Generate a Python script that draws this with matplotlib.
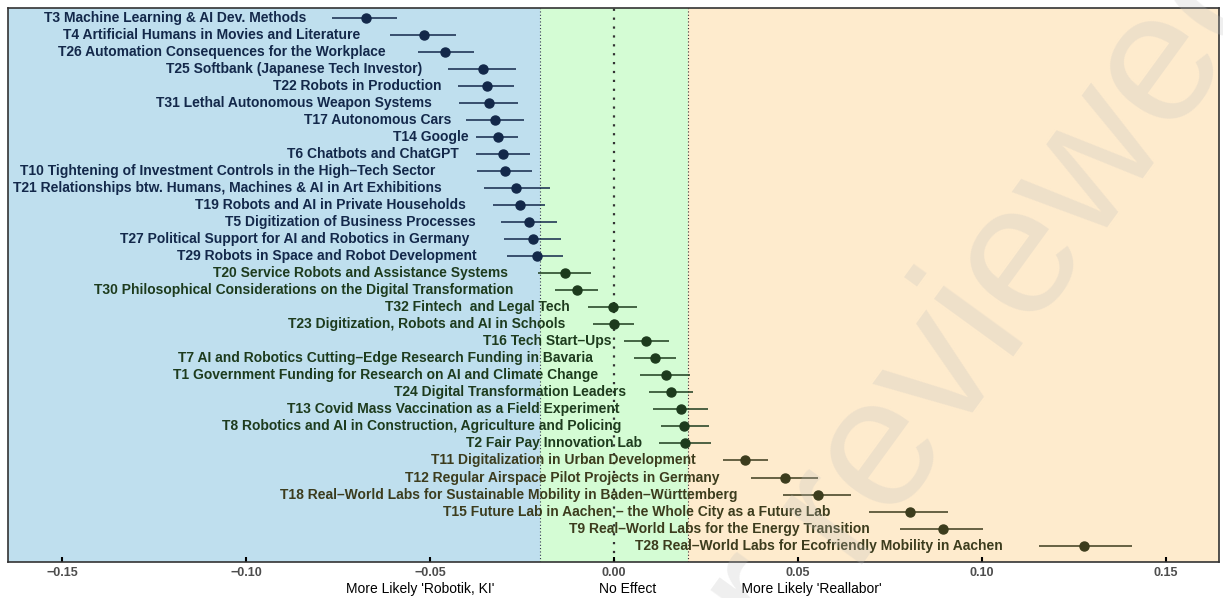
import matplotlib
matplotlib.use("Agg")
import matplotlib.pyplot as plt
import numpy as np

plt.rcParams['font.family'] = ['Liberation Sans', 'DejaVu Sans']

# topic effects, top to bottom
topics = [
    "T3 Machine Learning & AI Dev. Methods",
    "T4 Artificial Humans in Movies and Literature",
    "T26 Automation Consequences for the Workplace",
    "T25 Softbank (Japanese Tech Investor)",
    "T22 Robots in Production",
    "T31 Lethal Autonomous Weapon Systems",
    "T17 Autonomous Cars",
    "T14 Google",
    "T6 Chatbots and ChatGPT",
    "T10 Tightening of Investment Controls in the High–Tech Sector",
    "T21 Relationships btw. Humans, Machines & AI in Art Exhibitions",
    "T19 Robots and AI in Private Households",
    "T5 Digitization of Business Processes",
    "T27 Political Support for AI and Robotics in Germany",
    "T29 Robots in Space and Robot Development",
    "T20 Service Robots and Assistance Systems",
    "T30 Philosophical Considerations on the Digital Transformation",
    "T32 Fintech  and Legal Tech",
    "T23 Digitization, Robots and AI in Schools",
    "T16 Tech Start–Ups",
    "T7 AI and Robotics Cutting–Edge Research Funding in Bavaria",
    "T1 Government Funding for Research on AI and Climate Change",
    "T24 Digital Transformation Leaders",
    "T13 Covid Mass Vaccination as a Field Experiment",
    "T8 Robotics and AI in Construction, Agriculture and Policing",
    "T2 Fair Pay Innovation Lab",
    "T11 Digitalization in Urban Development",
    "T12 Regular Airspace Pilot Projects in Germany",
    "T18 Real–World Labs for Sustainable Mobility in Baden–Württemberg",
    "T15 Future Lab in Aachen – the Whole City as a Future Lab",
    "T9 Real–World Labs for the Energy Transition",
    "T28 Real–World Labs for Ecofriendly Mobility in Aachen",
]
estimate = [-0.0674, -0.0516, -0.0459, -0.0356, -0.0345, -0.0340, -0.0323, -0.0315,
            -0.0302, -0.0296, -0.0266, -0.0255, -0.0231, -0.0220, -0.0209, -0.0133,
            -0.0101, -0.0004, -0.0001, 0.0087, 0.0110, 0.0140, 0.0155, 0.0182,
            0.0191, 0.0194, 0.0357, 0.0464, 0.0555, 0.0804, 0.0893, 0.1276]
conf_low = [-0.0766, -0.0610, -0.0533, -0.0451, -0.0424, -0.0421, -0.0402, -0.0375,
            -0.0375, -0.0372, -0.0353, -0.0329, -0.0307, -0.0299, -0.0291, -0.0207,
            -0.0160, -0.0071, -0.0057, 0.0027, 0.0055, 0.0071, 0.0095, 0.0105,
            0.0128, 0.0123, 0.0295, 0.0373, 0.0460, 0.0694, 0.0777, 0.1156]
conf_high = [-0.0590, -0.0429, -0.0380, -0.0266, -0.0272, -0.0261, -0.0245, -0.0261,
             -0.0228, -0.0223, -0.0174, -0.0188, -0.0155, -0.0144, -0.0139, -0.0063,
             -0.0043, 0.0063, 0.0054, 0.0149, 0.0168, 0.0207, 0.0214, 0.0255,
             0.0258, 0.0264, 0.0418, 0.0554, 0.0644, 0.0908, 0.1003, 0.1407]

x_ticks = [-0.15, -0.10, -0.05, 0.00, 0.05, 0.10, 0.15]
x_tick_labels = ["−0.15", "−0.10", "−0.05", "0.00", "0.05", "0.10", "0.15"]
x_title = ("More Likely 'Robotik, KI'" + " " * 27 + "No Effect" + " " * 22
           + "More Likely 'Reallabor'")

threshold = 0.02
xlim = (-0.1647, 0.1644)

fig = plt.figure(figsize=(12.23, 5.98), dpi=100)
ax = fig.add_axes([8 / 1223, 1 - 562 / 598, 1211 / 1223, 554 / 598])

# shaded regions
ax.axvspan(xlim[0], -threshold, color="#bfdfee", lw=0, zorder=0)
ax.axvspan(-threshold, threshold, color="#d4fcd4", lw=0, zorder=0)
ax.axvspan(threshold, xlim[1], color="#feebcd", lw=0, zorder=0)
ax.axvline(0, color="#333333", lw=1.6, ls=(0, (1, 3)), zorder=1)
ax.axvline(-threshold, color="#333355", lw=0.8, ls=(0, (1, 2)), zorder=1)
ax.axvline(threshold, color="#333333", lw=0.8, ls=(0, (1, 2)), zorder=1)


def group_colour(v):
    if v < -threshold:
        return "#13284a"
    if v > threshold:
        return "#3c3c1d"
    return "#1d3b1d"


rows = np.arange(1, len(topics) + 1)
labels = []
for yi, name, est, lo, hi in zip(rows, topics, estimate, conf_low, conf_high):
    c = group_colour(est)
    ax.plot([lo, hi], [yi, yi], color=c, lw=1.1, zorder=3, solid_capstyle="butt")
    ax.plot(est, yi, "o", color=c, ms=6.5, zorder=4)
    labels.append(ax.text(lo, yi, name, ha="right", va="center", fontsize=10,
                          fontweight="bold", color=c, zorder=5))

ax.set_xlim(xlim)
ax.set_ylim(32.96, 0.43)
ax.set_yticks([])
ax.set_xticks(x_ticks)
ax.set_xticklabels(x_tick_labels, fontsize=9, fontweight="bold", color="#4d4d4d")
ax.tick_params(axis="x", direction="in", length=3.6, width=1.5, color="black", pad=3.5)
ax.set_xlabel(x_title, fontsize=10, labelpad=2)
for s in ax.spines.values():
    s.set_color("#333333")
    s.set_linewidth(1.2)

# push each label a tenth of its width further left (hjust = 1.1)
fig.canvas.draw()
renderer = fig.canvas.get_renderer()
px_per_unit = ax.bbox.width / (xlim[1] - xlim[0])
for t, lo in zip(labels, conf_low):
    w = t.get_window_extent(renderer).width
    t.set_x(lo - 0.1 * w / px_per_unit)

# diagonal watermark, split where "reviewed" starts
wm = dict(fontsize=134, color="#bfbfbf", alpha=0.25, rotation=54,
          rotation_mode="anchor", va="baseline", zorder=10)
wx, wy = 850 / 1223, 1 - 565 / 598
fig.text(wx, wy, "reviewed", ha="left", **wm)
fig.text(wx, wy, "Preprint not peer ", ha="right", **wm)

fig.savefig("out.png", dpi=100)
